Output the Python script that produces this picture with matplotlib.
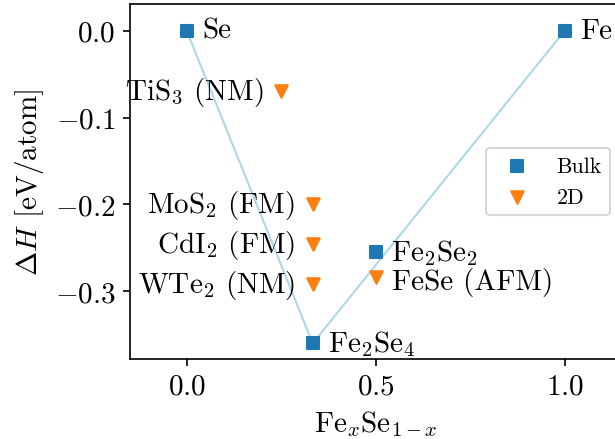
"""Fe-Se formation enthalpy: bulk convex hull plus 2D phases."""
import matplotlib
matplotlib.use("Agg")
import matplotlib.pyplot as plt

plt.rcParams.update({
    "font.family": "serif", "font.serif": ["cmr10"],
    "mathtext.fontset": "cm", "axes.formatter.use_mathtext": True,
    "font.size": 14, "axes.linewidth": 0.8,
})

# bulk phases (on / near the hull)
bulk_x = [0.0, 1.0, 1 / 3, 0.5]
bulk_y = [0.0, 0.0, -0.36, -0.255]
bulk_labels = ["Se", "Fe", r"Fe$_2$Se$_4$", r"Fe$_2$Se$_2$"]

# convex hull
hull_x = [0.0, 1 / 3, 1.0]
hull_y = [0.0, -0.36, 0.0]

# 2D phases
twod_x = [0.25, 1 / 3, 1 / 3, 1 / 3, 0.5]
twod_y = [-0.07, -0.2, -0.246, -0.292, -0.284]
twod_labels = [r"TiS$_3$ (NM)", r"MoS$_2$ (FM)", r"CdI$_2$ (FM)",
               r"WTe$_2$ (NM)", "FeSe (AFM)"]

xticks = [0.0, 0.5, 1.0]
yticks = [0.0, -0.1, -0.2, -0.3]

fig = plt.figure(figsize=(4.1, 440 / 150), dpi=150)
ax = fig.add_axes([130 / 615, 80 / 440, (621.4 - 130) / 615, (360 - 5.3) / 440])

ax.plot(hull_x, hull_y, color="lightblue", linewidth=1.0, zorder=1)
ax.scatter(bulk_x, bulk_y, marker="s", color="C0", label="Bulk", zorder=3)
ax.scatter(twod_x, twod_y, marker="v", color="C1", label="2D", zorder=3)

for x, y, lab in zip(bulk_x, bulk_y, bulk_labels):
    ax.annotate(lab, (x, y), xytext=(7.5, 0), textcoords="offset points",
                ha="left", va="center")
for x, y, lab in zip(twod_x, twod_y, twod_labels):
    if x < 0.45:
        # 2D phases left of the hull minimum: label on the left
        ax.annotate(lab, (x, y), xytext=(-8.5, 0), textcoords="offset points",
                    ha="right", va="center")
    else:
        ax.annotate(lab, (x, y), xytext=(8, -2), textcoords="offset points",
                    ha="left", va="center")

ax.set_xlim(-0.15, 1.15)
ax.set_ylim(-0.378, 0.0304)
ax.set_xticks(xticks)
ax.set_yticks(yticks)
ax.set_xlabel(r"Fe$_x$Se$_{1-x}$")
ax.set_ylabel(r"$\Delta H$ [eV/atom]")
ax.legend(loc="center right", fontsize=10.5)

fig.savefig("out.png", dpi=150)
